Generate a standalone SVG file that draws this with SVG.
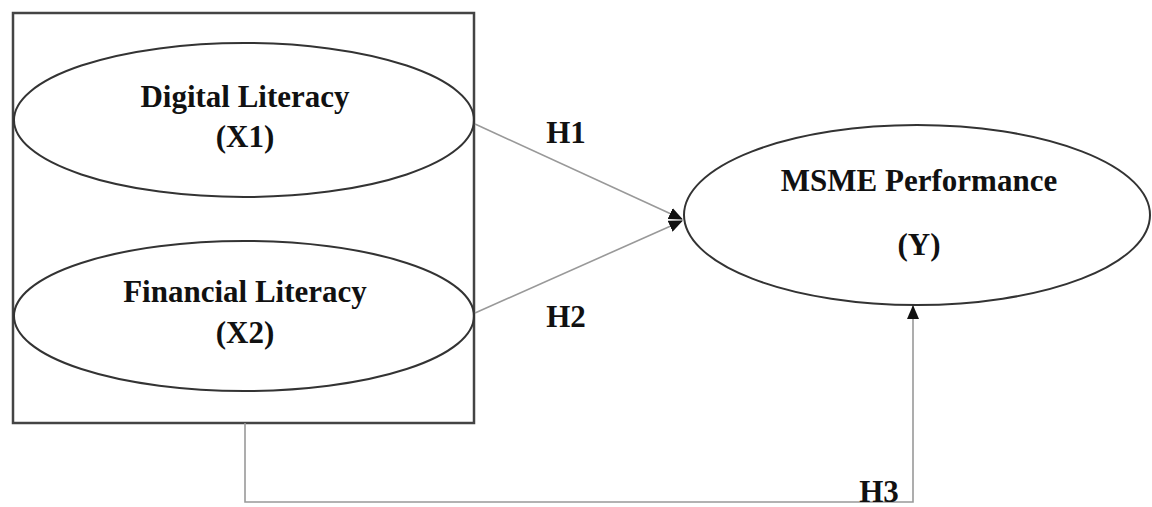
<svg xmlns="http://www.w3.org/2000/svg" width="1152" height="507" viewBox="0 0 1152 507">
<style>
.node{fill:none;stroke:#333;stroke-width:2}
.frame{fill:none;stroke:#444;stroke-width:2.5}
.lbl{font-family:"Liberation Serif","Times New Roman",serif;font-weight:bold;font-size:31px;fill:#111;text-anchor:middle}
.edge{fill:none;stroke:#999;stroke-width:1.6}
</style>
<defs>
<marker id="ah" markerWidth="14" markerHeight="12" refX="13" refY="6" orient="auto" markerUnits="userSpaceOnUse">
<path d="M0,0 L14,6 L0,12 Z" fill="#111"/>
</marker>
</defs>
<rect width="1152" height="507" fill="#fff"/>
<g id="frame">
<rect class="frame" x="13" y="13" width="461" height="410"/>
</g>
<g id="x1">
<ellipse class="node" cx="244" cy="120" rx="230" ry="77"/>
<text class="lbl" x="245" y="107">Digital Literacy</text>
<text class="lbl" x="245" y="147">(X1)</text>
</g>
<g id="x2">
<ellipse class="node" cx="244" cy="316" rx="230" ry="75"/>
<text class="lbl" x="245" y="302">Financial Literacy</text>
<text class="lbl" x="245" y="343">(X2)</text>
</g>
<g id="y">
<ellipse class="node" cx="917" cy="215" rx="233" ry="90"/>
<text class="lbl" x="919" y="191">MSME Performance</text>
<text class="lbl" x="919" y="255">(Y)</text>
</g>
<g id="connectors">
<line class="edge" x1="475" y1="124" x2="682" y2="219" marker-end="url(#ah)"/>
<line class="edge" x1="475" y1="313" x2="682" y2="221" marker-end="url(#ah)"/>
<polyline class="edge" points="245,423 245,502 913,502 913,306" marker-end="url(#ah)"/>
<text class="lbl" x="566" y="143">H1</text>
<text class="lbl" x="566" y="327">H2</text>
<text class="lbl" x="879" y="502">H3</text>
</g>
</svg>
